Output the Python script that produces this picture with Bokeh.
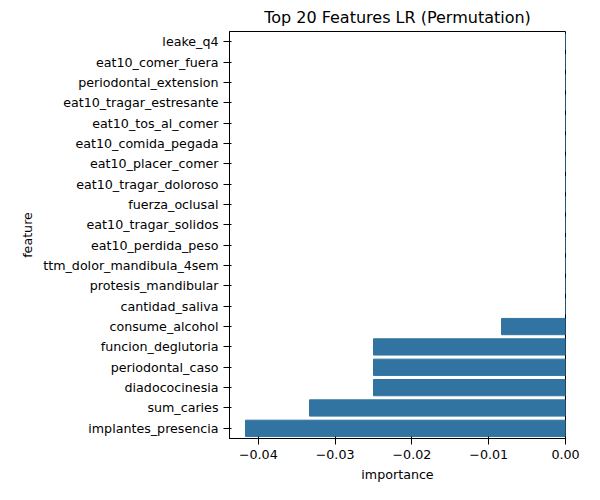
from bokeh.plotting import figure
from bokeh.embed import file_html
from bokeh.resources import INLINE
from bokeh.models import FixedTicker, Range1d

features = ["leake_q4","eat10_comer_fuera","periodontal_extension","eat10_tragar_estresante",
"eat10_tos_al_comer","eat10_comida_pegada","eat10_placer_comer","eat10_tragar_doloroso",
"fuerza_oclusal","eat10_tragar_solidos","eat10_perdida_peso","ttm_dolor_mandibula_4sem",
"protesis_mandibular","cantidad_saliva","consume_alcohol","funcion_deglutoria",
"periodontal_caso","diadococinesia","sum_caries","implantes_presencia"]
importance = [0,0,0,0,0,0,0,0,0,0,0,0,0,0,-0.00833,-0.025,-0.025,-0.025,-0.03333,-0.04167]

p = figure(width=584, height=484, y_range=list(reversed(features)),
           x_range=Range1d(-0.04375, 0.0), output_backend="svg", toolbar_location=None,
           title="Top 20 Features LR (Permutation)",
           min_border_left=229, min_border_top=28, min_border_bottom=46, min_border_right=19)
p.hbar(y=features, right=importance, left=0, height=0.8, color="#3274a1")
p.xgrid.visible=False; p.ygrid.visible=False
p.title.align="center"; p.title.text_font_size="12pt"; p.title.text_font_style="normal"
p.title.text_font="DejaVu Sans"; p.title.text_color="black"
p.xaxis.ticker=FixedTicker(ticks=[-0.04,-0.03,-0.02,-0.01,0.0])
p.xaxis.major_label_overrides={-0.04:"−0.04",-0.03:"−0.03",-0.02:"−0.02",-0.01:"−0.01",0.0:"0.00"}
p.xaxis.axis_label="importance"; p.yaxis.axis_label="feature"
for ax in (p.xaxis, p.yaxis):
    ax.axis_label_text_font_style="normal"; ax.axis_label_text_font="DejaVu Sans"
    ax.axis_label_text_font_size="9.5pt"; ax.major_label_text_font="DejaVu Sans"
    ax.major_label_text_font_size="9.5pt"; ax.minor_tick_line_color=None
    ax.major_label_text_color="black"; ax.axis_line_color="black"
    ax.axis_label_text_color="black"
p.outline_line_color="black"; p.outline_line_alpha=1.0
open("out.html","w").write(file_html(p, INLINE))
